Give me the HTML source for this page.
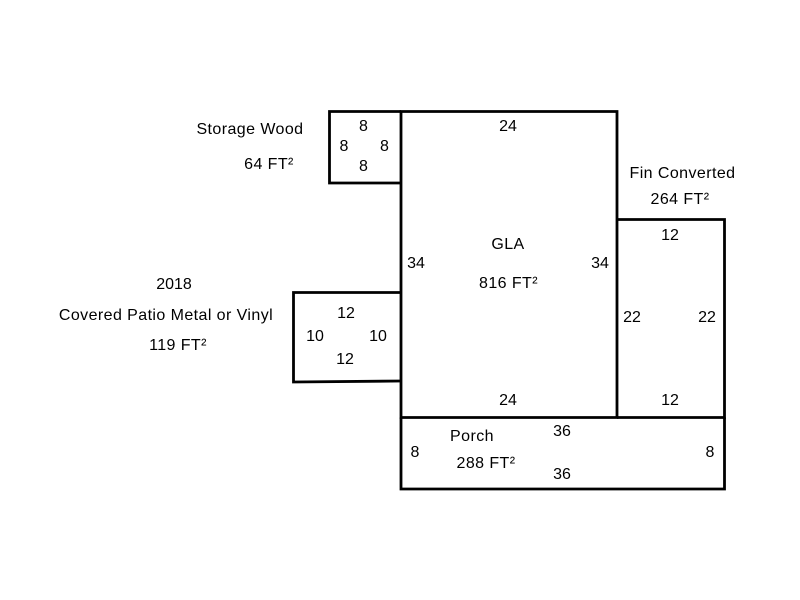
<!DOCTYPE html>
<html>
<head>
<meta charset="utf-8">
<style>
html,body{margin:0;padding:0;background:#fff;width:800px;height:600px;overflow:hidden}
svg{display:block}
text{font-family:"Liberation Sans",Arial,sans-serif;font-size:16px;fill:#000;text-anchor:middle}
text.l{letter-spacing:.42px}
line,polyline,path{stroke:#000;stroke-width:2.8;fill:none}
</style>
</head>
<body>
<svg width="800" height="600" viewBox="0 0 800 600" xmlns="http://www.w3.org/2000/svg">
<path d="M401 111.500H617V417.500H401Z"/>
<path d="M401 111.500H329.500V183H401"/>
<path d="M401 292.500H293.500V382L401 381"/>
<path d="M617 219.500H724.500V417.500H617"/>
<path d="M401 417.500V489H724.500V417.500"/>

<text class="l" x="250" y="134">Storage Wood</text>
<text class="l" x="269" y="169">64 FT²</text>
<text x="363.500" y="131">8</text>
<text x="344" y="151">8</text>
<text x="384.500" y="151">8</text>
<text x="363.500" y="171">8</text>

<text x="508" y="131">24</text>
<text class="l" x="508" y="249">GLA</text>
<text class="l" x="508.500" y="288">816 FT²</text>
<text x="416" y="268">34</text>
<text x="600" y="268">34</text>
<text x="508" y="405">24</text>

<text class="l" x="682.500" y="178">Fin Converted</text>
<text class="l" x="680" y="204">264 FT²</text>
<text x="670" y="240">12</text>
<text x="632" y="322">22</text>
<text x="707" y="322">22</text>
<text x="670" y="405">12</text>

<text x="174" y="289">2018</text>
<text class="l" x="166" y="320">Covered Patio Metal or Vinyl</text>
<text class="l" x="178" y="350">119 FT²</text>
<text x="346" y="318">12</text>
<text x="315" y="341">10</text>
<text x="378" y="341">10</text>
<text x="345" y="364">12</text>

<text class="l" x="472" y="441">Porch</text>
<text class="l" x="486" y="468">288 FT²</text>
<text x="562" y="436">36</text>
<text x="562" y="479">36</text>
<text x="415" y="457">8</text>
<text x="710" y="457">8</text>
</svg>
</body>
</html>
